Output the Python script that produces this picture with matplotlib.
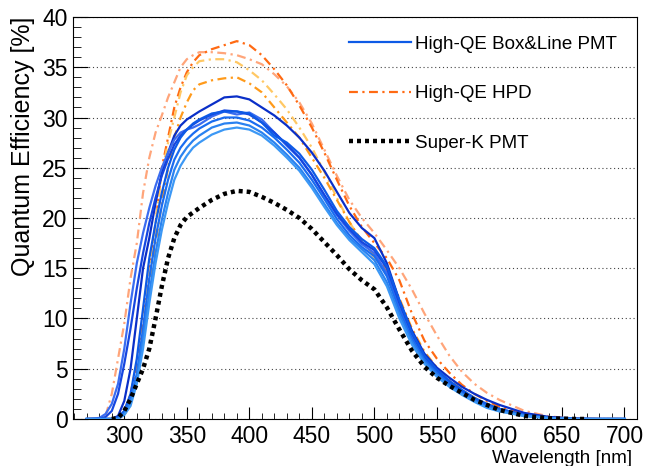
import matplotlib
matplotlib.use('Agg')
import matplotlib.pyplot as plt
from matplotlib.ticker import MultipleLocator

plt.rcParams['font.family'] = ['Liberation Sans', 'DejaVu Sans']

# common wavelength grid for the high-QE curves (nm)
wl = [270, 280, 285, 290, 295, 300, 305, 310, 315, 320, 325, 330, 335, 340, 345,
      350, 355, 360, 370, 380, 390, 400, 410, 420, 430, 440, 450, 460, 470, 480,
      490, 500, 510, 520, 530, 540, 550, 560, 570, 580, 590, 600, 620, 640, 660,
      680, 700]

# High-QE Box&Line PMT samples (QE in %)
box_1 = [0, 0, 0, 0, 0.3, 1.8, 5, 10, 15, 18, 21.5, 24.5, 26.5, 28.2, 29.2,
         29.8, 30.2, 30.6, 31.3, 32.0, 32.1, 31.8, 31.0, 30.2, 29.2, 28.0, 26.5, 24.7, 22.6, 20.5,
         19.0, 18.0, 15.5, 11.8, 8.8, 6.5, 5.1, 4.1, 3.2, 2.5, 1.9, 1.4, 0.6, 0.2, 0.05,
         0, 0]
box_2 = [0, 0.1, 0.5, 1.5, 3.5, 7, 11.5, 15.5, 18.5, 21, 23.2, 25, 26.5, 27.8, 28.5,
         28.8, 29.0, 29.3, 30.1, 30.6, 30.3, 30.5, 29.8, 28.5, 27.2, 26.0, 24.3, 22.2, 20.3, 18.7,
         17.4, 16.5, 14.5, 11.0, 8.2, 6.0, 4.6, 3.5, 2.6, 1.9, 1.3, 0.9, 0.35, 0.1, 0,
         0, 0]
box_3 = [0, 0, 0.2, 0.8, 2.5, 5.5, 9, 13, 16.5, 19.5, 22, 24.2, 25.9, 27.3, 28.2,
         28.8, 29.3, 29.7, 30.3, 30.7, 30.6, 30.3, 29.5, 28.5, 27.3, 26.0, 24.3, 22.3, 20.4, 18.9,
         17.6, 16.8, 15.0, 11.5, 8.5, 6.2, 4.8, 3.7, 2.8, 2.0, 1.4, 1.0, 0.4, 0.1, 0,
         0, 0]
box_4 = [0, 0, 0, 0, 0.2, 0.8, 2.5, 6, 11, 16, 19.5, 22.5, 25, 26.8, 28,
         28.8, 29.4, 29.8, 30.4, 30.6, 30.6, 30.4, 29.5, 28.2, 27.5, 26.4, 24.8, 22.8, 20.7, 19.1,
         17.9, 17.0, 15.2, 11.8, 8.6, 6.3, 4.9, 3.8, 2.9, 2.1, 1.5, 1.0, 0.4, 0.12, 0,
         0, 0]
box_5 = [0, 0, 0, 0, 0.1, 0.6, 2, 4.5, 9, 14, 18, 21.2, 23.8, 25.8, 27,
         27.8, 28.4, 28.9, 29.6, 30.0, 30.0, 29.7, 29.0, 28.0, 26.8, 25.5, 23.8, 21.9, 19.9, 18.3,
         17.1, 16.2, 14.2, 10.8, 8.0, 5.9, 4.6, 3.5, 2.6, 1.9, 1.3, 0.9, 0.35, 0.1, 0,
         0, 0]
box_6 = [0, 0, 0, 0, 0, 0.5, 1.6, 4, 8, 12.5, 16.5, 19.8, 22.5, 24.8, 26.1,
         27.0, 27.7, 28.2, 29.0, 29.4, 29.5, 29.2, 28.5, 27.5, 26.3, 25.0, 23.3, 21.4, 19.5, 18.0,
         16.9, 15.8, 13.6, 10.4, 7.7, 5.7, 4.4, 3.3, 2.5, 1.8, 1.2, 0.8, 0.3, 0.08, 0,
         0, 0]
box_7 = [0, 0, 0, 0, 0, 0.4, 1.3, 3.5, 7, 11.5, 15.5, 18.8, 21.5, 23.8, 25.2,
         26.2, 27.0, 27.5, 28.3, 28.8, 29.0, 28.8, 28.2, 27.2, 26.0, 24.7, 23.0, 21.1, 19.3, 17.8,
         16.6, 15.4, 13.2, 10.0, 7.4, 5.5, 4.2, 3.2, 2.4, 1.7, 1.1, 0.75, 0.3, 0.08, 0,
         0, 0]
box_curves = [box_1, box_2, box_3, box_4, box_5, box_6, box_7]
box_colors = ['#0a2fc8', '#3a6cf0', '#1546e0', '#0d5ae6', '#1a6cf0', '#2a82f0', '#3c98f5']

# High-QE HPD samples (QE in %)
hpd_1 = [0, 0, 0.3, 2.5, 6, 9.5, 14, 17.5, 22.5, 26, 28.5, 30.2, 32, 33.5, 35,
         35.8, 36.2, 36.5, 36.5, 36.4, 36.2, 35.8, 35.3, 34.3, 33.1, 31.5, 29.4, 26.8, 24.2, 21.8,
         20.0, 18.5, 16.8, 15.0, 12.9, 10.5, 8.3, 6.3, 4.7, 3.5, 2.6, 1.9, 0.8, 0.25, 0.05,
         0, 0]
hpd_2 = [0, 0, 0, 0, 0.2, 0.8, 2.5, 5.5, 10, 14.5, 19.5, 25, 28, 31, 33,
         34.5, 35.5, 36.2, 36.8, 37.2, 37.6, 37.2, 36.2, 34.8, 33.2, 31.2, 29.0, 26.5, 23.8, 21.2,
         19.1, 17.5, 16.0, 13.8, 10.5, 7.8, 6.0, 4.6, 3.4, 2.5, 1.8, 1.2, 0.5, 0.15, 0.03,
         0, 0]
hpd_3 = [0, 0, 0, 0, 0, 0.5, 1.8, 4.2, 9, 15, 19.5, 24.5, 27.5, 30, 32.5,
         34.2, 35.0, 35.6, 35.8, 35.8, 35.5, 34.7, 33.7, 32.3, 30.8, 29.0, 27.0, 24.6, 22.0, 19.6,
         17.6, 16.0, 14.5, 11.5, 8.5, 6.3, 4.8, 3.7, 2.8, 2.0, 1.4, 0.9, 0.35, 0.1, 0,
         0, 0]
hpd_4 = [0, 0, 0, 0, 0, 0.4, 1.5, 3.8, 8, 13, 17.5, 21.5, 25, 28, 30,
         31.5, 32.7, 33.3, 33.7, 33.9, 34.0, 33.4, 32.5, 31.0, 29.5, 28.0, 26.0, 24.0, 21.8, 19.6,
         17.7, 16.3, 14.8, 12.0, 9.0, 6.7, 5.1, 3.9, 2.9, 2.1, 1.5, 1.0, 0.4, 0.1, 0,
         0, 0]
hpd_curves = [hpd_1, hpd_2, hpd_3, hpd_4]
hpd_colors = ['#ffa57a', '#ff6a13', '#ffc864', '#ff9a1a']

# Super-K PMT
wl_sk = [290, 295, 300, 305, 310, 315, 320, 325, 330, 335, 340, 345, 350, 360, 370,
         380, 390, 400, 410, 420, 430, 440, 450, 460, 470, 480, 490, 500, 510, 520,
         530, 540, 550, 560, 570, 580, 600, 620, 640, 660, 670]
qe_sk = [0, 0.1, 0.8, 2.0, 3.5, 5.0, 7.0, 10, 13.2, 16, 18, 19.3, 20.1, 21.0, 21.8,
         22.4, 22.7, 22.6, 22.1, 21.5, 20.8, 20.0, 18.9, 17.6, 16.3, 14.9, 13.8, 12.9, 11.1, 8.9,
         6.8, 5.2, 4.1, 3.3, 2.6, 1.9, 0.9, 0.3, 0.07, 0.0, 0.0]

fig = plt.figure(figsize=(6.48, 4.66), dpi=100)
ax = fig.add_axes([0.1127, 0.1009, 0.8703, 0.8626])

# HPD curves (dash-dot)
for i, (qe, c) in enumerate(zip(hpd_curves, hpd_colors)):
    ax.plot(wl, qe, color=c, lw=1.6, linestyle=(0, (4, 2, 1, 2)),
            label='High-QE HPD' if i == 1 else None, zorder=2)

# Box&Line curves
for i, (qe, c) in enumerate(zip(box_curves, box_colors)):
    ax.plot(wl, qe, color=c, lw=1.6,
            label='High-QE Box&Line PMT' if i == 3 else None, zorder=3)

# Super-K
ax.plot(wl_sk, qe_sk, color='black', lw=3.2, linestyle=(0, (0.9, 0.9)),
        label='Super-K PMT', zorder=4)

ax.set_xlim(259, 710)
ax.set_ylim(0, 40)

ax.xaxis.set_major_locator(MultipleLocator(50))
ax.xaxis.set_minor_locator(MultipleLocator(10))
ax.yaxis.set_major_locator(MultipleLocator(5))
ax.yaxis.set_minor_locator(MultipleLocator(1))
ax.tick_params(which='both', direction='in', top=False, right=False, labelsize=16.5)
ax.tick_params(axis='x', which='major', length=9, pad=4)
ax.tick_params(axis='x', which='minor', length=4.5)
ax.tick_params(axis='y', which='major', length=11, pad=4)
ax.tick_params(axis='y', which='minor', length=6)

ax.grid(axis='y', which='major', color='#444444', lw=0.8, linestyle=(0, (1, 2.5)))
ax.set_axisbelow(True)

ax.set_ylabel('Quantum Efficiency [%]', fontsize=18, loc='top')
ax.yaxis.set_label_coords(-0.068, 1.0)
ax.set_xlabel('Wavelength [nm]', fontsize=13.5, loc='right')
ax.xaxis.set_label_coords(0.991, -0.078)

handles, labels = ax.get_legend_handles_labels()
order = [labels.index('High-QE Box&Line PMT'), labels.index('High-QE HPD'),
         labels.index('Super-K PMT')]
ax.legend([handles[k] for k in order], [labels[k] for k in order],
          loc='upper left', bbox_to_anchor=(0.46, 0.995), frameon=False,
          fontsize=13.5, handlelength=3.3, handletextpad=0.2, labelspacing=1.72)

plt.savefig('out.png', dpi=100)
plt.close()
